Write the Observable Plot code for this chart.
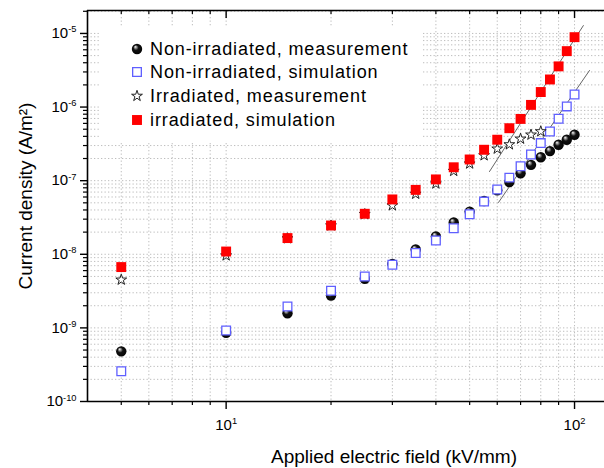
<!DOCTYPE html>
<html><head><meta charset="utf-8">
<script src="https://cdn.jsdelivr.net/npm/d3@7"></script>
<script src="https://cdn.jsdelivr.net/npm/@observablehq/plot@0.6"></script>
<style>
body{margin:0;background:#fff;}
#wrap{position:relative;width:604px;height:468px;font-family:"Liberation Sans",Arial,Helvetica,sans-serif;}
#legend{position:absolute;left:100px;top:27px;width:323px;height:115px;background:#fff;}
.row{position:absolute;left:0;height:24px;display:flex;align-items:center;font-size:18px;letter-spacing:0.9px;white-space:nowrap;color:#000}
.row svg{margin-left:30px;margin-right:6px}
</style></head><body><div id="wrap"></div>
<script>
// ---- data ----
const field = [5,10,15,20,25,30,35,40,45,50,55,60,65,70,75,80,85,90,95,100];
const nonIrrMeas = [4.8e-10,8.6e-10,1.58e-9,2.75e-9,4.65e-9,7.4e-9,1.16e-8,1.75e-8,2.7e-8,3.8e-8,5.3e-8,7.4e-8,9.6e-8,1.26e-7,1.64e-7,2.08e-7,2.52e-7,3.08e-7,3.6e-7,4.2e-7];
const nonIrrSim = [2.58e-10,9.2e-10,1.95e-9,3.2e-9,5.0e-9,7.2e-9,1.04e-8,1.54e-8,2.26e-8,3.5e-8,5.2e-8,7.6e-8,1.1e-7,1.57e-7,2.27e-7,3.24e-7,4.66e-7,6.93e-7,1.02e-6,1.48e-6];
const irrField = [5,10,15,20,25,30,35,40,45,50,55,60,65,70,75,80];
const irrMeas = [4.5e-9,9.6e-9,1.64e-8,2.45e-8,3.5e-8,4.6e-8,6.6e-8,9.1e-8,1.35e-7,1.7e-7,2.2e-7,2.71e-7,3.1e-7,3.7e-7,4.2e-7,4.66e-7];
const irrSim = [6.7e-9,1.09e-8,1.66e-8,2.46e-8,3.55e-8,5.56e-8,7.5e-8,1.04e-7,1.52e-7,1.94e-7,2.63e-7,3.6e-7,5.16e-7,6.9e-7,1.07e-6,1.6e-6,2.37e-6,3.57e-6,5.75e-6,8.9e-6];
const fitIrrX = [57, 106];
const fitIrrY = [1.33e-7, 1.28e-5];
const fitNonX = [60.5, 110.4];
const fitNonY = [5.06e-8, 3.14e-6];
const legendLabels = ["Non-irradiated, measurement","Non-irradiated, simulation","Irradiated, measurement","irradiated, simulation"];
const xMajorTicks = [10, 100];
const xMinorTicks = [5,6,7,8,9,20,30,40,50,60,70,80,90];
const yMajorTicks = [1e-10,1e-9,1e-8,1e-7,1e-6,1e-5];
const yMantissas = [2,3,4,5,6,7,8,9];
const yMinorTicks = yMajorTicks.flatMap(p => yMantissas.map(m => m * p)).filter(v => v < 2.05e-5);
const xTitle = "Applied electric field (kV/mm)";
const yTitle = "Current density (A/m\u00B2)";

const xDomain = [4, 121.9];
const yDomain = [1e-10, 2.05e-5];

const rows = (xs, ys) => xs.map((x, i) => ({x, y: ys[i]}));
const fmt = d => "10^" + Math.round(Math.log10(d));

function addStops(rg) {
  rg.append("stop").attr("offset","0").attr("stop-color","#ffffff");
  rg.append("stop").attr("offset","0.16").attr("stop-color","#a0a0a0");
  rg.append("stop").attr("offset","0.42").attr("stop-color","#111");
  rg.append("stop").attr("offset","1").attr("stop-color","#000");
}
const defs = () => {
  const g = d3.create("svg:defs");
  const rg = g.append("radialGradient").attr("id","sphere").attr("cx","0.5").attr("cy","0.5").attr("r","0.6").attr("fx","0.33").attr("fy","0.28");
  addStops(rg);
  return g.node();
};

const frameH = 468 - 10 - 67;
const grid = {stroke:"#bdbdbd", strokeOpacity:1, strokeWidth:1, strokeDasharray:"1.3,2.2"};
const noLabel = {tickFormat: () => "", label: null};

const plot = Plot.plot({
  width: 604, height: 468,
  marginLeft: 87, marginTop: 10, marginRight: 0, marginBottom: 67,
  style: {fontFamily: '"Liberation Sans", Arial, Helvetica, sans-serif', fontSize: "15px", background: "white", color: "black"},
  x: {type: "log", domain: xDomain},
  y: {type: "log", domain: yDomain},
  marks: [
    defs,
    Plot.gridX(xMajorTicks.concat(xMinorTicks), grid),
    Plot.gridY(yMajorTicks.concat(yMinorTicks), grid),
    Plot.ruleX([xDomain[0]], {stroke:"#000", strokeWidth:1.6}),
    Plot.ruleY([yDomain[0]], {stroke:"#000", strokeWidth:1.6}),
    Plot.ruleY([yDomain[1]], {stroke:"#000", strokeWidth:1.6}),
    Plot.axisX(xMajorTicks, {anchor:"bottom", tickSize:8, tickPadding:10, tickFormat: fmt, label:null, strokeWidth:1.4}),
    Plot.axisX(xMinorTicks, {anchor:"bottom", tickSize:4, ...noLabel, strokeWidth:1.2}),
    Plot.tickX(xMajorTicks, {x: d => d, insetBottom: frameH - 8, stroke:"#000", strokeWidth:1.4}),
    Plot.tickX(xMinorTicks, {x: d => d, insetBottom: frameH - 4, stroke:"#000", strokeWidth:1.2}),
    Plot.axisY(yMajorTicks, {anchor:"left", tickSize:7, tickPadding:4, tickFormat: fmt, label:null, strokeWidth:1.4}),
    Plot.axisY(yMinorTicks, {anchor:"left", tickSize:4, ...noLabel, strokeWidth:1.2}),
    Plot.line(rows(fitIrrX, fitIrrY), {x:"x", y:"y", stroke:"#555", strokeWidth:0.9}),
    Plot.line(rows(fitNonX, fitNonY), {x:"x", y:"y", stroke:"#555", strokeWidth:0.9}),
    Plot.dot(rows(field, nonIrrMeas), {x:"x", y:"y", r:5.2, fill:"url(#sphere)", stroke:"none"}),
    Plot.dot(rows(field, nonIrrSim), {x:"x", y:"y", symbol:"square", r:4.9, fill:"white", stroke:"#5f5fff", strokeWidth:1.3}),
    Plot.dot(rows(irrField, irrMeas), {x:"x", y:"y", symbol:"star", r:3.4, fill:"white", stroke:"#222", strokeWidth:1}),
    Plot.dot(rows(field, irrSim), {x:"x", y:"y", symbol:"square", r:5.6, fill:"#ff0000", stroke:"none"}),
    Plot.text([xTitle], {text: d => d, frameAnchor:"bottom", lineAnchor:"middle", textAnchor:"middle", dx:48, dy:55, fontSize:19}),
    Plot.text([yTitle], {text: d => d, frameAnchor:"left", lineAnchor:"middle", textAnchor:"middle", rotate:-90, dx:-62, dy:-10, fontSize:19})
  ]
});

d3.select(plot).selectAll("text").each(function(){
  const m = /^10\^(-?\d+)$/.exec(this.textContent);
  if (m) {
    const s = d3.select(this);
    s.text(null);
    s.append("tspan").text("10");
    s.append("tspan").attr("font-size","0.62em").attr("dy","-0.62em").text(m[1]);
  }
});

const wrap = document.getElementById("wrap");
wrap.appendChild(plot);

// legend
const leg = document.createElement("div");
leg.id = "legend";
wrap.appendChild(leg);
const symSpecs = [
  {type:d3.symbolCircle, r:5.2, fill:"url(#sphereL)", stroke:"none", sw:0},
  {type:d3.symbolSquare, r:4.9, fill:"white", stroke:"#5f5fff", sw:1.3},
  {type:d3.symbolStar, r:3.4, fill:"white", stroke:"#222", sw:1},
  {type:d3.symbolSquare, r:5.6, fill:"#ff0000", stroke:"none", sw:0}
];
const rowTops = [10, 33, 57, 81];
legendLabels.forEach((lab, i) => {
  const row = document.createElement("div");
  row.className = "row";
  row.style.top = rowTops[i] + "px";
  const s = d3.create("svg").attr("width", 14).attr("height", 14);
  if (i === 0) {
    const rg = s.append("defs").append("radialGradient").attr("id","sphereL").attr("cx","0.5").attr("cy","0.5").attr("r","0.6").attr("fx","0.33").attr("fy","0.28");
    addStops(rg);
  }
  const sp = symSpecs[i];
  s.append("path").attr("transform","translate(7,7)")
    .attr("d", d3.symbol(sp.type, Math.PI * sp.r * sp.r)())
    .attr("fill", sp.fill).attr("stroke", sp.stroke).attr("stroke-width", sp.sw);
  row.appendChild(s.node());
  const t = document.createElement("span");
  t.textContent = lab;
  row.appendChild(t);
  leg.appendChild(row);
});
</script></body></html>
